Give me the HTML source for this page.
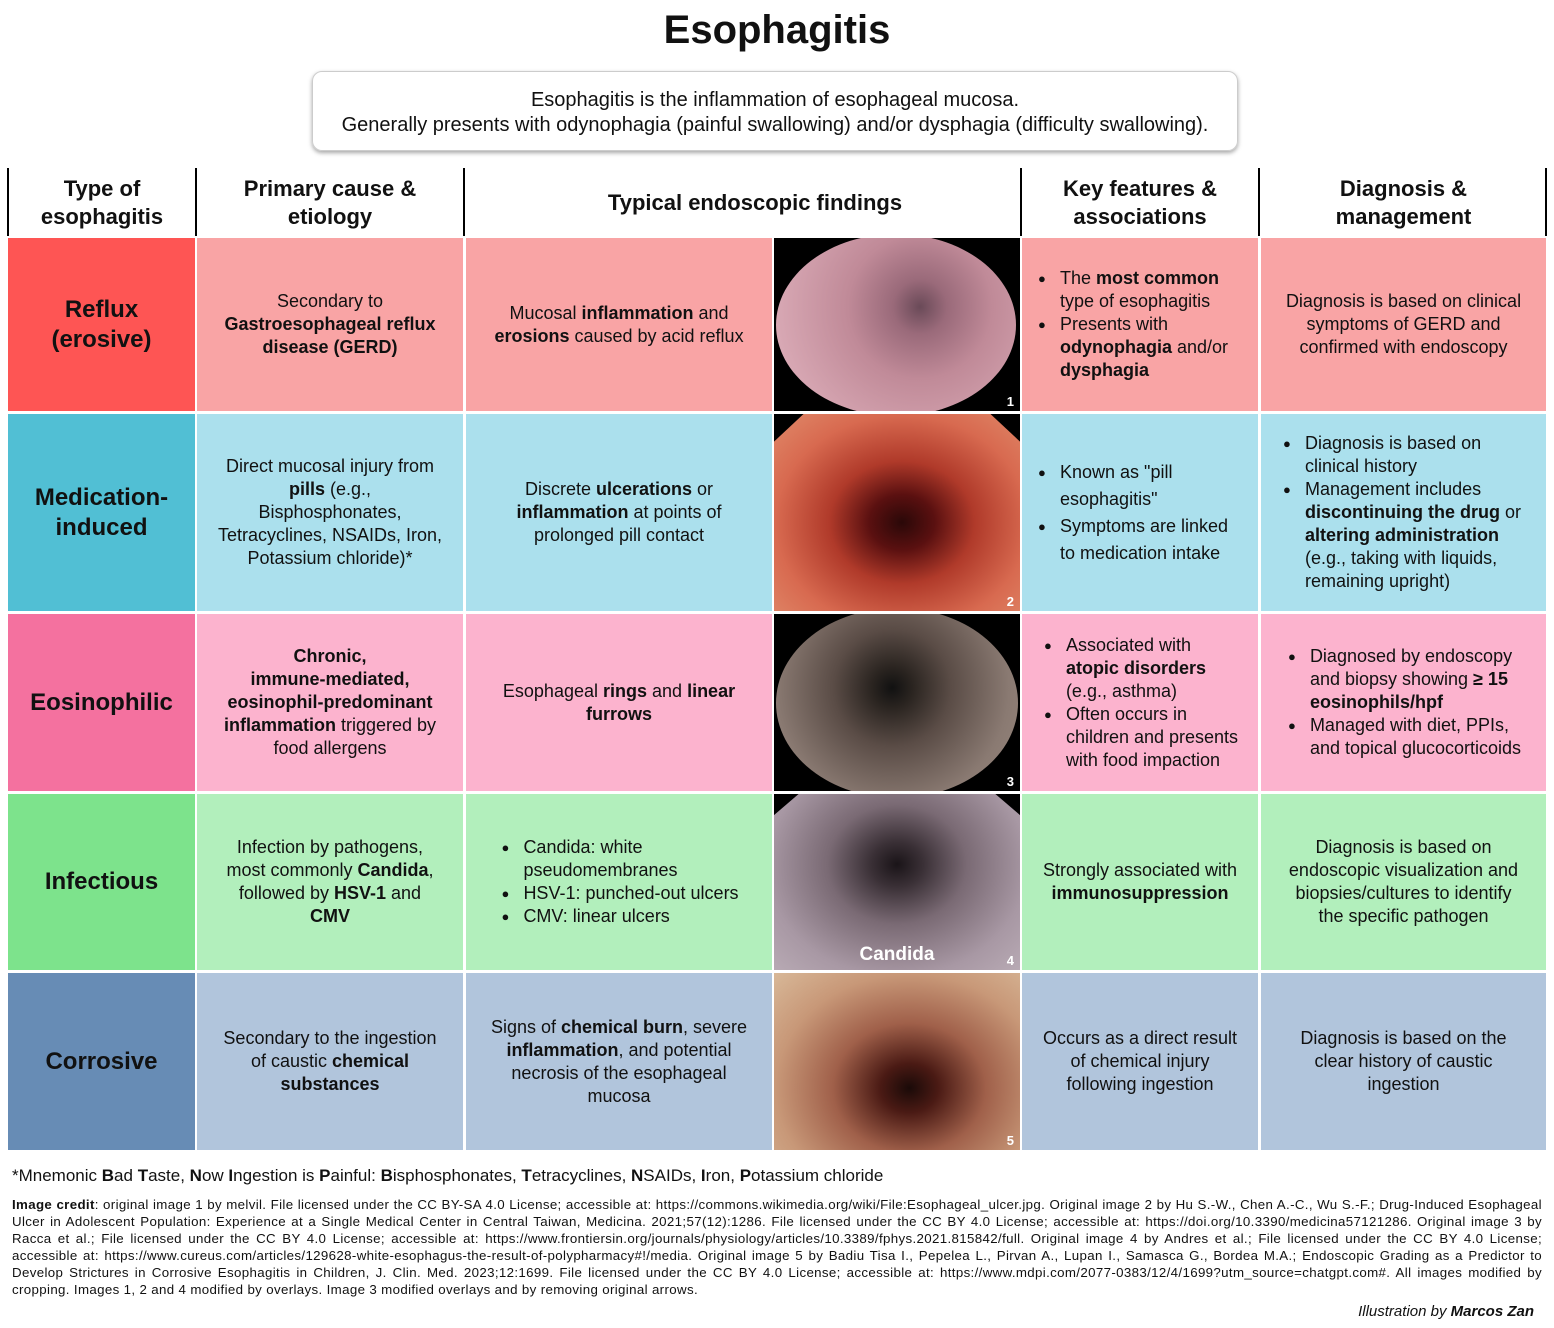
<!DOCTYPE html>
<html><head><meta charset="utf-8"><style>
*{margin:0;padding:0;box-sizing:border-box}
body{width:1554px;height:1328px;background:#fff;font-family:"Liberation Sans",Arial,sans-serif;color:#111;position:relative;overflow:hidden}
.a{position:absolute}
.c{position:absolute;display:flex;align-items:center;justify-content:center;text-align:center;font-size:18px;line-height:23px;padding:0 16px}
.h{position:absolute;display:flex;align-items:center;justify-content:center;text-align:center;font-size:22px;font-weight:bold;line-height:28px}
.t{font-size:24px;font-weight:bold;line-height:30px}
.vl{position:absolute;width:2px;background:#000;top:168px;height:68px}
ul{list-style:none;text-align:left}
ul li{position:relative;padding-left:24px}
ul li:before{content:"●";position:absolute;left:2px;font-size:13px}
.img{position:absolute;background:#000;overflow:hidden}
.num{position:absolute;right:6px;bottom:2px;color:#fff;font-weight:bold;font-size:13px}
.nw{white-space:nowrap}
</style></head><body>
<div class="a" style="left:0;width:1554px;top:8px;text-align:center;font-size:40px;font-weight:bold">Esophagitis</div>
<div class="a" style="left:312px;top:71px;width:926px;height:80px;border:1px solid #ccc;border-radius:10px;box-shadow:0 2px 4px rgba(0,0,0,.35);text-align:center;font-size:20px;line-height:25px;padding-top:16px">Esophagitis is the inflammation of esophageal mucosa.<br>Generally presents with odynophagia (painful swallowing) and/or dysphagia (difficulty swallowing).</div>

<div class="vl" style="left:7px"></div><div class="vl" style="left:195px"></div><div class="vl" style="left:463px"></div><div class="vl" style="left:1020px"></div><div class="vl" style="left:1258px"></div><div class="vl" style="left:1545px"></div>
<div class="h" style="left:8px;width:188px;top:168px;height:70px"><span>Type of<br>esophagitis</span></div>
<div class="h" style="left:197px;width:266px;top:168px;height:70px"><span>Primary cause &amp;<br>etiology</span></div>
<div class="h" style="left:466px;width:578px;top:168px;height:70px"><span>Typical endoscopic findings</span></div>
<div class="h" style="left:1022px;width:236px;top:168px;height:70px"><span>Key features &amp;<br>associations</span></div>
<div class="h" style="left:1261px;width:285px;top:168px;height:70px"><span>Diagnosis &amp;<br>management</span></div>

<!-- Row 1 -->
<div class="c t" style="left:8px;width:187px;top:238px;height:173px;background:#fe5554"><span>Reflux<br>(erosive)</span></div>
<div class="c" style="left:197px;width:266px;top:238px;height:173px;background:#f9a4a5"><span>Secondary to<br><b>Gastroesophageal reflux disease (GERD)</b></span></div>
<div class="c" style="left:466px;width:306px;top:238px;height:173px;background:#f9a4a5"><span>Mucosal <b>inflammation</b> and <b>erosions</b> caused by acid reflux</span></div>
<div class="img" style="left:774px;width:246px;top:238px;height:173px"><div class="a" style="left:2px;top:-4px;width:240px;height:182px;border-radius:50%;background:radial-gradient(circle at 60% 40%,#6a4a58 0,#9a6a7a 15%,#c08a98 40%,#d8a8b4 80%)"></div><div class="num">1</div></div>
<div class="c" style="left:1022px;width:236px;top:238px;height:173px;background:#f9a4a5;padding:0 14px"><ul><li>The <b>most common</b> type of esophagitis</li><li>Presents with <b>odynophagia</b> and/or <b>dysphagia</b></li></ul></div>
<div class="c" style="left:1261px;width:285px;top:238px;height:173px;background:#f9a4a5"><span>Diagnosis is based on clinical symptoms of GERD and confirmed with endoscopy</span></div>

<!-- Row 2 -->
<div class="c t" style="left:8px;width:187px;top:414px;height:197px;background:#51bfd4"><span>Medication-<br>induced</span></div>
<div class="c" style="left:197px;width:266px;top:414px;height:197px;background:#abe0ed;padding:0 8px"><span>Direct mucosal injury from<br><b>pills</b> (e.g.,<br>Bisphosphonates,<br>Tetracyclines, NSAIDs, Iron,<br>Potassium chloride)*</span></div>
<div class="c" style="left:466px;width:306px;top:414px;height:197px;background:#abe0ed;padding:0 20px"><span>Discrete <b>ulcerations</b> or <b>inflammation</b> at points of prolonged pill contact</span></div>
<div class="img" style="left:774px;width:246px;top:414px;height:197px"><div class="a" style="left:0;top:0;width:246px;height:197px;clip-path:polygon(12% 0,88% 0,100% 14%,100% 100%,0 100%,0 14%);background:radial-gradient(ellipse at 52% 55%,#2a0808 0,#5a1010 18%,#b03a2a 40%,#d86a50 70%,#e08a6a 100%)"></div><div class="num">2</div></div>
<div class="c" style="left:1022px;width:236px;top:414px;height:197px;background:#abe0ed;line-height:27px;padding:0 14px"><ul><li>Known as "pill esophagitis"</li><li>Symptoms are linked to medication intake</li></ul></div>
<div class="c" style="left:1261px;width:285px;top:414px;height:197px;background:#abe0ed;padding:0 20px"><ul><li>Diagnosis is based on clinical history</li><li>Management includes <b>discontinuing the drug</b> or <b>altering administration</b> (e.g., taking with liquids, remaining upright)</li></ul></div>

<!-- Row 3 -->
<div class="c t" style="left:8px;width:187px;top:614px;height:177px;background:#f4719f"><span>Eosinophilic</span></div>
<div class="c" style="left:197px;width:266px;top:614px;height:177px;background:#fcb3ce;padding:0 8px"><span><b>Chronic,<br>immune-mediated,<br>eosinophil-predominant<br>inflammation</b> triggered by<br>food allergens</span></div>
<div class="c" style="left:466px;width:306px;top:614px;height:177px;background:#fcb3ce;padding:0 20px"><span>Esophageal <b>rings</b> and <b>linear furrows</b></span></div>
<div class="img" style="left:774px;width:246px;top:614px;height:177px"><div class="a" style="left:2px;top:-6px;width:242px;height:190px;border-radius:50%;background:radial-gradient(circle at 48% 42%,#111 0,#2a2420 12%,#5a4c46 35%,#8a7a72 70%,#9a8a80 100%)"></div><div class="num">3</div></div>
<div class="c" style="left:1022px;width:236px;top:614px;height:177px;background:#fcb3ce;padding:0 12px"><ul><li>Associated with<br><b>atopic disorders</b><br>(e.g., asthma)</li><li>Often occurs in<br>children and presents<br>with food impaction</li></ul></div>
<div class="c" style="left:1261px;width:285px;top:614px;height:177px;background:#fcb3ce;padding:0 12px"><ul><li>Diagnosed by endoscopy<br>and biopsy showing <b>≥ 15<br>eosinophils/hpf</b></li><li>Managed with diet, PPIs,<br>and topical glucocorticoids</li></ul></div>

<!-- Row 4 -->
<div class="c t" style="left:8px;width:187px;top:794px;height:176px;background:#7de38c"><span>Infectious</span></div>
<div class="c" style="left:197px;width:266px;top:794px;height:176px;background:#b2efbc;padding:0 8px"><span>Infection by pathogens,<br>most commonly <b>Candida</b>,<br>followed by <b>HSV-1</b> and<br><b>CMV</b></span></div>
<div class="c" style="left:466px;width:306px;top:794px;height:176px;background:#b2efbc"><ul><li>Candida: white<br>pseudomembranes</li><li>HSV-1: punched-out ulcers</li><li>CMV: linear ulcers</li></ul></div>
<div class="img" style="left:774px;width:246px;top:794px;height:176px"><div class="a" style="left:0;top:0;width:246px;height:176px;clip-path:polygon(10% 0,90% 0,100% 12%,100% 100%,0 100%,0 12%);background:radial-gradient(ellipse at 50% 40%,#1a1418 0,#3a3036 15%,#7a6a74 40%,#a898a4 75%,#b8aab4 100%)"></div><div class="a" style="left:0;width:246px;bottom:4px;text-align:center;color:#fff;font-weight:bold;font-size:19px">Candida</div><div class="num">4</div></div>
<div class="c" style="left:1022px;width:236px;top:794px;height:176px;background:#b2efbc;padding:0 10px"><span>Strongly associated with <b>immunosuppression</b></span></div>
<div class="c" style="left:1261px;width:285px;top:794px;height:176px;background:#b2efbc;padding:0 8px"><span>Diagnosis is based on<br>endoscopic visualization and<br>biopsies/cultures to identify<br>the specific pathogen</span></div>

<!-- Row 5 -->
<div class="c t" style="left:8px;width:187px;top:973px;height:177px;background:#678cb5"><span>Corrosive</span></div>
<div class="c" style="left:197px;width:266px;top:973px;height:177px;background:#b1c5dc;padding:0 8px"><span>Secondary to the ingestion<br>of caustic <b>chemical<br>substances</b></span></div>
<div class="c" style="left:466px;width:306px;top:973px;height:177px;background:#b1c5dc;padding:0 12px"><span>Signs of <b>chemical burn</b>, severe <b>inflammation</b>, and potential necrosis of the esophageal mucosa</span></div>
<div class="img" style="left:774px;width:246px;top:973px;height:177px"><div class="a" style="left:0;top:0;width:246px;height:177px;background:radial-gradient(ellipse at 55% 65%,#1a0a08 0,#4a1a14 15%,#a0604a 40%,#c89878 70%,#d8b898 100%)"></div><div class="num">5</div></div>
<div class="c" style="left:1022px;width:236px;top:973px;height:177px;background:#b1c5dc;padding:0 14px"><span>Occurs as a direct result of chemical injury following ingestion</span></div>
<div class="c" style="left:1261px;width:285px;top:973px;height:177px;background:#b1c5dc;padding:0 26px"><span>Diagnosis is based on the clear history of caustic ingestion</span></div>

<div class="a" style="left:12px;top:1166px;font-size:17px">*Mnemonic <b>B</b>ad <b>T</b>aste, <b>N</b>ow <b>I</b>ngestion is <b>P</b>ainful: <b>B</b>isphosphonates, <b>T</b>etracyclines, <b>N</b>SAIDs, <b>I</b>ron, <b>P</b>otassium chloride</div>
<div class="a" style="left:12px;top:1196px;width:1530px;font-size:13.3px;line-height:17px;text-align:justify;letter-spacing:0.35px"><b>Image credit</b>: original image 1 by melvil. File licensed under the CC BY-SA 4.0 License; accessible at: https://commons.wikimedia.org/wiki/File:Esophageal_ulcer.jpg. Original image 2 by Hu S.-W., Chen A.-C., Wu S.-F.; Drug-Induced Esophageal Ulcer in Adolescent Population: Experience at a Single Medical Center in Central Taiwan, Medicina. 2021;57(12):1286. File licensed under the CC BY 4.0 License; accessible at: https://doi.org/10.3390/medicina57121286. Original image 3 by Racca et al.; File licensed under the CC BY 4.0 License; accessible at: https://www.frontiersin.org/journals/physiology/articles/10.3389/fphys.2021.815842/full. Original image 4 by Andres et al.; File licensed under the CC BY 4.0 License; accessible at: https://www.cureus.com/articles/129628-white-esophagus-the-result-of-polypharmacy#!/media. Original image 5 by Badiu Tisa I., Pepelea L., Pirvan A., Lupan I., Samasca G., Bordea M.A.; Endoscopic Grading as a Predictor to Develop Strictures in Corrosive Esophagitis in Children, J. Clin. Med. 2023;12:1699. File licensed under the CC BY 4.0 License; accessible at: https://www.mdpi.com/2077-0383/12/4/1699?utm_source=chatgpt.com#. All images modified by cropping. Images 1, 2 and 4 modified by overlays. Image 3 modified overlays and by removing original arrows.</div>
<div class="a" style="right:20px;top:1303px;font-size:15px;font-style:italic">Illustration by <b>Marcos Zan</b></div>
</body></html>
